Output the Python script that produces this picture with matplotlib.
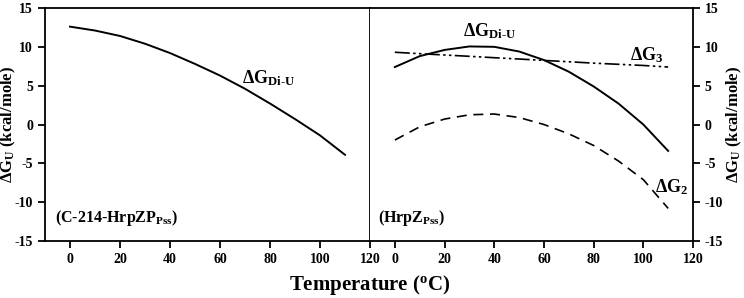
import matplotlib
matplotlib.use("Agg")
import matplotlib.pyplot as plt
import numpy as np

plt.rcParams['font.family'] = ['Liberation Serif', 'DejaVu Serif']
plt.rcParams['font.weight'] = 'bold'
plt.rcParams['mathtext.fontset'] = 'custom'
plt.rcParams['mathtext.rm'] = 'Liberation Serif:bold'
plt.rcParams['mathtext.it'] = 'Liberation Serif:bold'
plt.rcParams['mathtext.bf'] = 'Liberation Serif:bold'
plt.rcParams['axes.unicode_minus'] = False

# C-214-HrpZP_Pss
temp_left = [0, 10, 20, 30, 40, 50, 60, 70, 80, 90, 100, 110]
dg_left = [12.6, 12.1, 11.4, 10.4, 9.2, 7.8, 6.3, 4.6, 2.7, 0.7, -1.4, -3.9]

# HrpZ_Pss
temp_right = [0, 10, 20, 30, 40, 50, 60, 70, 80, 90, 100, 110]
dg_diu = [7.4, 8.8, 9.6, 10.05, 10.0, 9.4, 8.3, 6.8, 4.9, 2.7, 0.0, -3.4]
dg_3 = [9.3, 9.12, 8.95, 8.78, 8.6, 8.43, 8.25, 8.08, 7.9, 7.75, 7.6, 7.4]
dg_2 = [-2.0, -0.3, 0.7, 1.25, 1.35, 0.9, 0.0, -1.2, -2.7, -4.7, -7.1, -10.8]

yticks = [-15, -10, -5, 0, 5, 10, 15]
xticks = [0, 20, 40, 60, 80, 100, 120]

fig = plt.figure(figsize=(7.44, 2.98), dpi=100)
axL = fig.add_axes([45 / 744, 1 - 241 / 298, 325 / 744, 233 / 298])
axR = fig.add_axes([370 / 744, 1 - 241 / 298, 323 / 744, 233 / 298])

lw = 1.4
axL.plot(temp_left, dg_left, color='black', lw=lw)
axR.plot(temp_right, dg_diu, color='black', lw=lw)
axR.plot(temp_right, dg_3, color='black', lw=1.2, linestyle=(0, (9, 2, 1.5, 2, 1.5, 2)))
axR.plot(temp_right, dg_2, color='black', lw=1.2, linestyle=(0, (6, 4)))

for ax in (axL, axR):
    ax.set_xlim(-10, 120)
    ax.set_ylim(-15, 15)
    ax.set_xticks(xticks)
    ax.set_yticks(yticks)
    for s in ax.spines.values():
        s.set_linewidth(1.3)
    ax.tick_params(direction='out', length=5, width=1.3, labelsize=10)
    for lab in ax.get_xticklabels() + ax.get_yticklabels():
        lab.set_fontweight('bold')

axR.yaxis.tick_right()
axR.yaxis.set_label_position('right')
axR.spines['left'].set_visible(False)

ylab = r'$\Delta$G$_\mathrm{U}$ (kcal/mole)'
axL.set_ylabel(ylab, fontsize=12, fontweight='bold')
axR.set_ylabel(ylab, fontsize=12, fontweight='bold', rotation=90)
axL.yaxis.set_label_coords(-0.113, 0.5)
axR.yaxis.set_label_coords(1.127, 0.5)
axL.yaxis.label.set_va('center')
axR.yaxis.label.set_va('center')

fig.text(370 / 744, 1 - 285 / 298, r'Temperature ($\mathregular{^o}$C)', ha='center', va='center',
         fontsize=15, fontweight='bold')

axL.text(69, 5.35, r'$\Delta$G$_{\mathrm{Di\text{-}U}}$', fontsize=13, ha='left', va='baseline')
axL.text(-6, -12.5, r'(C-214-HrpZP$_{\mathrm{Pss}}$)', fontsize=11.5, ha='left', va='baseline')

axR.text(27.4, 11.3, r'$\Delta$G$_{\mathrm{Di\text{-}U}}$', fontsize=13, ha='left', va='baseline')
axR.text(94.8, 8.3, r'$\Delta$G$_{\mathrm{3}}$', fontsize=13, ha='left', va='baseline')
axR.text(104.8, -8.7, r'$\Delta$G$_{\mathrm{2}}$', fontsize=13, ha='left', va='baseline')
axR.text(-6.9, -12.5, r'(HrpZ$_{\mathrm{Pss}}$)', fontsize=11.5, ha='left', va='baseline')

fig.savefig('out.png', dpi=100)
